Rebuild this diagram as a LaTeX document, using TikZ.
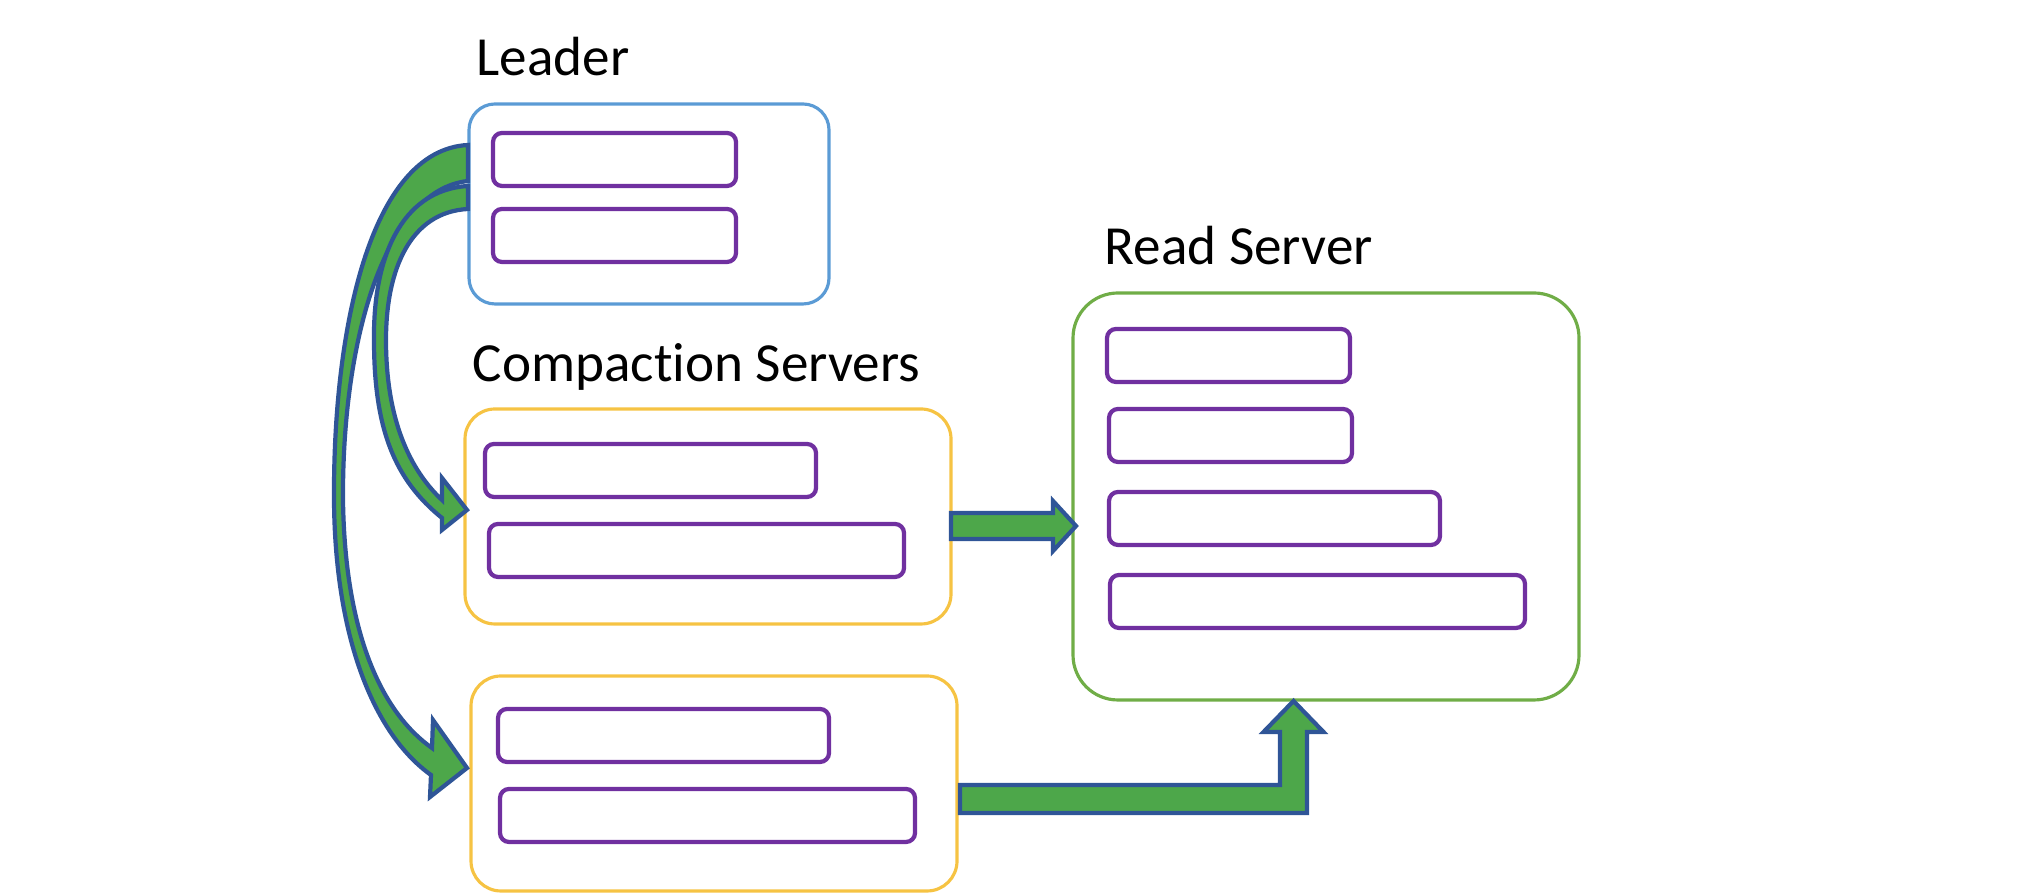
\documentclass[tikz,border=0pt]{standalone}
\usepackage{fontspec}
\setmainfont{Carlito}[Ligatures=NoCommon]
\usetikzlibrary{calc,positioning}
\definecolor{leaderblue}{RGB}{91,155,213}
\definecolor{compgold}{RGB}{246,195,67}
\definecolor{readgreen}{RGB}{112,173,71}
\definecolor{barpurple}{RGB}{112,48,160}
\definecolor{arrowgreen}{RGB}{77,167,74}
\definecolor{arrowblue}{RGB}{47,85,151}

\begin{document}
\begin{tikzpicture}[
title/.style = {anchor=base west, inner sep=0pt,
                font=\fontsize{15.7}{18}\selectfont},
server/.style = {draw, line width=0.9pt, inner sep=0pt, outer sep=0pt},
leaderbox/.style = {server, draw=leaderblue, rounded corners=0.26cm,
                    minimum width=3.60cm, minimum height=2.00cm},
compbox/.style = {server, draw=compgold, rounded corners=0.30cm,
                  minimum width=4.86cm, minimum height=2.15cm},
readbox/.style = {server, draw=readgreen, rounded corners=0.45cm,
                  minimum width=5.06cm, minimum height=4.07cm},
bar/.style = {draw=barpurple, line width=1.2pt, rounded corners=0.09cm,
              minimum height=0.53cm, inner sep=0pt, outer sep=0pt},
shortbar/.style = {bar, minimum width=2.43cm},
midbar/.style = {bar, minimum width=3.31cm},
longbar/.style = {bar, minimum width=4.15cm},
blockarrow/.style = {fill=arrowgreen, draw=arrowblue, line width=1.2pt,
                     line join=miter},
]
\useasboundingbox (0,0) rectangle (20.30,8.93);
        % leader
        \node (leader) [leaderbox, anchor=north west] at (4.69,7.89) {};
        \node (ldname) [title] at ($(leader.north west)+(0.07,0.28)$) {Leader};
        \node (lb1) [shortbar, below right=0.29cm and 0.24cm of leader.north west] {};
        \node (lb2) [shortbar, below=0.23cm of lb1] {};
        % compaction servers
        \node (cs1) [compbox, below right=1.05cm and -0.04cm of leader.south west] {};
        \node (csname) [title] at ($(cs1.north west)+(0.07,0.27)$) {Compaction Servers};
        \node (cb11) [midbar, below right=0.35cm and 0.20cm of cs1.north west] {};
        \node (cb12) [longbar, below right=0.27cm and 0.04cm of cb11.south west] {};
        \node (cs2) [compbox, below right=0.52cm and 0.06cm of cs1.south west] {};
        \node (cb21) [midbar, below right=0.33cm and 0.27cm of cs2.north west] {};
        \node (cb22) [longbar, below right=0.27cm and 0.02cm of cb21.south west] {};
        % read server
        \node (rs) [readbox, anchor=north west] at (10.73,6.00) {};
        \node (rsname) [title] at ($(rs.north west)+(0.31,0.28)$) {Read Server};
        \node (rb1) [shortbar, below right=0.36cm and 0.34cm of rs.north west] {};
        \node (rb2) [shortbar, below right=0.27cm and 0.02cm of rb1.south west] {};
        \node (rb3) [midbar, below right=0.30cm and 0cm of rb2.south west] {};
        \node (rb4) [longbar, below right=0.30cm and 0.01cm of rb3.south west] {};
        % leader to compaction servers
        \coordinate (lo1) at ($(leader.west)+(-0.01,0.59)$);
        \coordinate (lo2) at ($(leader.west)+(-0.01,0.23)$);
        \coordinate (li1) at ($(leader.west)+(-0.01,0.18)$);
        \coordinate (li2) at ($(leader.west)+(-0.01,-0.05)$);
        \coordinate (to2) at ($(cs2.west)+(-0.04,0.155)$);
        \coordinate (to1) at ($(cs1.west)+(0.02,0.065)$);
        \draw[blockarrow] (lo1) .. controls (3.70,7.43) and (3.33,5.63) .. (3.34,3.93)
            .. controls (3.35,2.53) and (3.75,1.58) .. ($(to2)+(-0.36,-0.07)$)
            -- ($(to2)+(-0.37,-0.29)$) -- (to2) -- ($(to2)+(-0.34,0.48)$)
            -- ($(to2)+(-0.35,0.20)$)
            .. controls (3.85,1.78) and (3.45,2.53) .. (3.43,3.93)
            .. controls (3.42,5.53) and (3.85,7.03) .. (lo2) -- cycle;
        \draw[blockarrow] (li1) .. controls (4.00,7.03) and (3.73,6.33) .. (3.74,5.53)
            .. controls (3.74,4.63) and (3.95,4.13) .. ($(to1)+(-0.25,-0.08)$)
            -- ($(to1)+(-0.25,-0.20)$) -- (to1) -- ($(to1)+(-0.25,0.32)$)
            -- ($(to1)+(-0.25,0.10)$)
            .. controls (4.10,4.23) and (3.86,4.73) .. (3.86,5.53)
            .. controls (3.86,6.23) and (4.10,6.81) .. (li2) -- cycle;
        % compaction servers to read server
        \coordinate (a1s) at ($(cs1.east)+(0,-0.095)$);
        \coordinate (a1e) at ($(rs.west |- a1s)+(0.03,0)$);
        \draw[blockarrow] ($(a1s)+(0,0.13)$) -- ($(a1e)+(-0.23,0.13)$) -- ++(0,0.12)
            -- (a1e) -- ++(-0.23,-0.25) -- ++(0,0.12) -- ($(a1s)+(0,-0.13)$) -- cycle;
        \coordinate (a2s) at ($(cs2.east)+(0.03,-0.155)$);
        \coordinate (a2e) at ($(rs.south)+(-0.325,-0.01)$);
        \coordinate (a2c) at (a2e |- a2s);
        \draw[blockarrow] ($(a2s)+(0,0.14)$) -- ($(a2c)+(-0.135,0.14)$)
            -- ($(a2e)+(-0.135,-0.31)$) -- ++(-0.165,0) -- (a2e) -- ++(0.30,-0.31)
            -- ++(-0.165,0) -- ($(a2c)+(0.135,-0.14)$) -- ($(a2s)+(0,-0.14)$) -- cycle;
\end{tikzpicture}
\end{document}
